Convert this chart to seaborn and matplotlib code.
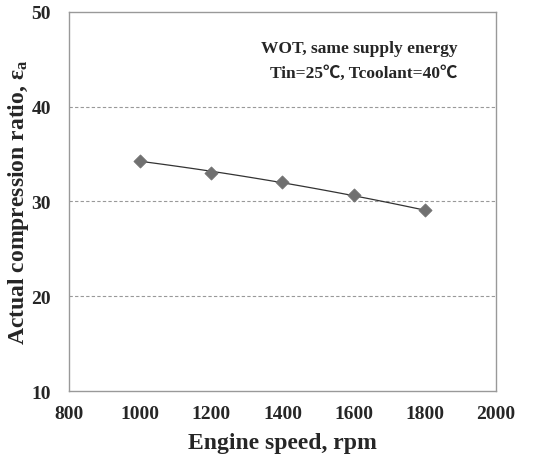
import matplotlib
matplotlib.use("Agg")
import matplotlib.pyplot as plt
import seaborn as sns
import pandas as pd

speed = [1000, 1200, 1400, 1600, 1800]
ratio = [34.3, 33.05, 32.05, 30.65, 29.05]
xticks = [800, 1000, 1200, 1400, 1600, 1800, 2000]
yticks = [10, 20, 30, 40, 50]

sns.set_style("white")
plt.rcParams['font.family'] = ['Liberation Serif', 'Noto Sans CJK JP', 'DejaVu Serif']
plt.rcParams['mathtext.fontset'] = 'custom'
plt.rcParams['mathtext.rm'] = 'Liberation Serif'
plt.rcParams['mathtext.it'] = 'Liberation Serif'

df = pd.DataFrame({"speed": speed, "ratio": ratio})

fig = plt.figure(figsize=(5.44, 4.60), dpi=100)
ax = fig.add_axes([0.1268, 0.1478, 0.785, 0.824])

sns.regplot(data=df, x="speed", y="ratio", order=2, ci=None, ax=ax,
            scatter=False, truncate=True,
            line_kws=dict(color="#333333", lw=0.9))
sns.scatterplot(data=df, x="speed", y="ratio", ax=ax, marker="D", s=45,
                color="#707070", edgecolor="#707070", zorder=3)

ax.set_xlim(800, 2000)
ax.set_ylim(10, 50)
ax.set_xticks(xticks)
ax.set_yticks(yticks)
ax.set_xticklabels([str(v) for v in xticks], fontsize=14, fontweight="bold")
ax.set_yticklabels([str(v) for v in yticks], fontsize=14, fontweight="bold")
ax.tick_params(axis="x", length=0, pad=10)
ax.tick_params(axis="y", length=0, pad=13)
for y in [20, 30, 40]:
    ax.axhline(y, color="#999999", lw=0.8, ls=(0, (3, 2)), zorder=1)
for s in ax.spines.values():
    s.set_color("#999999")
    s.set_linewidth(1.0)

ax.set_xlabel("Engine speed, rpm", fontsize=17, fontweight="bold", labelpad=7)
ax.set_ylabel(r"Actual compression ratio, ε$_\mathregular{a}$", fontsize=17,
              fontweight="bold", labelpad=0)

ax.text(0.91, 0.905, "WOT, same supply energy", transform=ax.transAxes,
        ha="right", va="center", fontsize=12.5, fontweight="bold")
ax.text(0.91, 0.84, "Tin=25℃, Tcoolant=40℃", transform=ax.transAxes,
        ha="right", va="center", fontsize=12.5, fontweight="bold")

fig.savefig("out.png", dpi=100)
